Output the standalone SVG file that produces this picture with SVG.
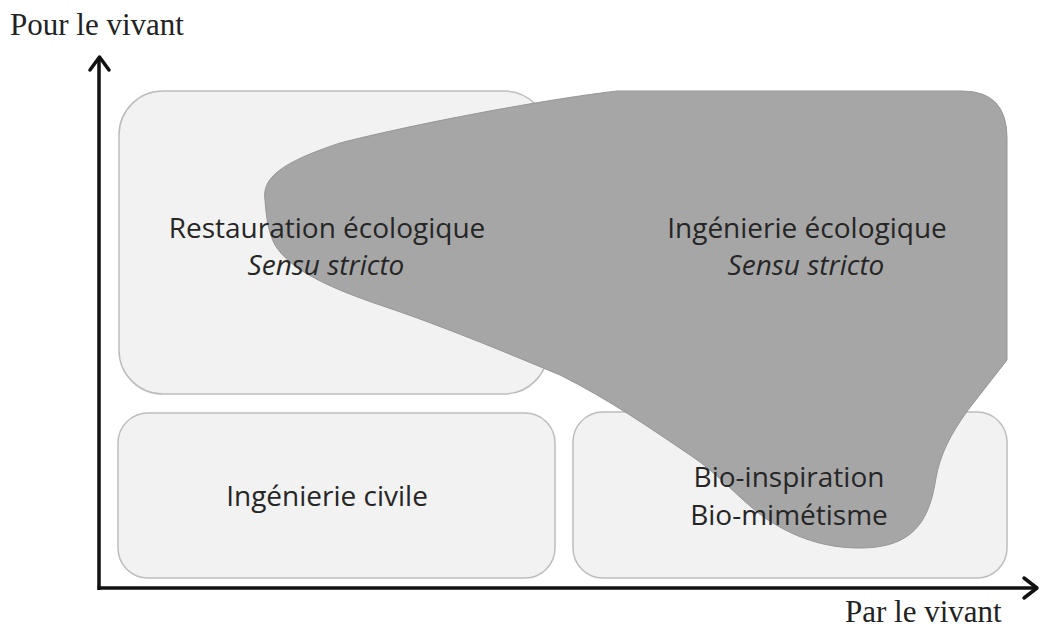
<svg xmlns="http://www.w3.org/2000/svg" width="1040" height="630" viewBox="0 0 1040 630">
<style>
.box{fill:#f2f2f2;stroke:#bdbdbd;stroke-width:1.5}
.blob{fill:#a6a6a6;stroke:#969696;stroke-width:1}
.lbl{font-family:"Open Sans",Lato,sans-serif;font-size:28px;fill:#262626;text-anchor:middle;font-variant-ligatures:none}
.it{font-style:italic}
.ax{font-family:"Liberation Serif","Times New Roman",serif;font-size:31px;fill:#222}
.axis{stroke:#111;stroke-width:3.5;fill:none}
.head{stroke:#111;stroke-width:3.5;fill:none;stroke-linecap:round;stroke-linejoin:round}
</style>
<rect width="1040" height="630" fill="#fff"/>
<g id="restauration"><rect class="box" x="119" y="91" width="429" height="303" rx="44"/></g>
<g id="civile"><rect class="box" x="118" y="413" width="437" height="165" rx="30"/></g>
<g id="bio"><rect class="box" x="573" y="412" width="434" height="166" rx="30"/></g>
<g id="ingenierie-eco">
<path class="blob" d="M 265,200 C 262,178 280,163 340,143 C 410,125 540,100 617,91 L 962,91 Q 1007,91 1007,138 L 1007,360 L 968,410 C 950,435 940,455 936,478 C 930,515 918,548 860,548 C 825,548 795,538 765,518 C 740,500 720,475 690,455 C 650,428 610,400 560,375 C 500,350 440,325 380,305 C 330,288 290,270 275,245 C 268,232 266,215 265,200 Z"/>
</g>
<g id="labels">
<text class="lbl" x="327" y="238">Restauration écologique</text>
<text class="lbl it" x="326" y="275">Sensu stricto</text>
<text class="lbl" x="807" y="238">Ingénierie écologique</text>
<text class="lbl it" x="806" y="275">Sensu stricto</text>
<text class="lbl" x="327" y="506">Ingénierie civile</text>
<text class="lbl" x="789" y="487">Bio-inspiration</text>
<text class="lbl" x="789" y="525">Bio-mimétisme</text>
</g>
<g id="connectors">
<line class="axis" x1="99" y1="590" x2="99" y2="58"/>
<polyline class="head" points="90,70 99.5,57 109,70"/>
<line class="axis" x1="97.5" y1="588" x2="1035" y2="588"/>
<polyline class="head" points="1024,578 1037,588 1024,598"/>
</g>
<text class="ax" x="10" y="35">Pour le vivant</text>
<text class="ax" x="845" y="622">Par le vivant</text>
</svg>
